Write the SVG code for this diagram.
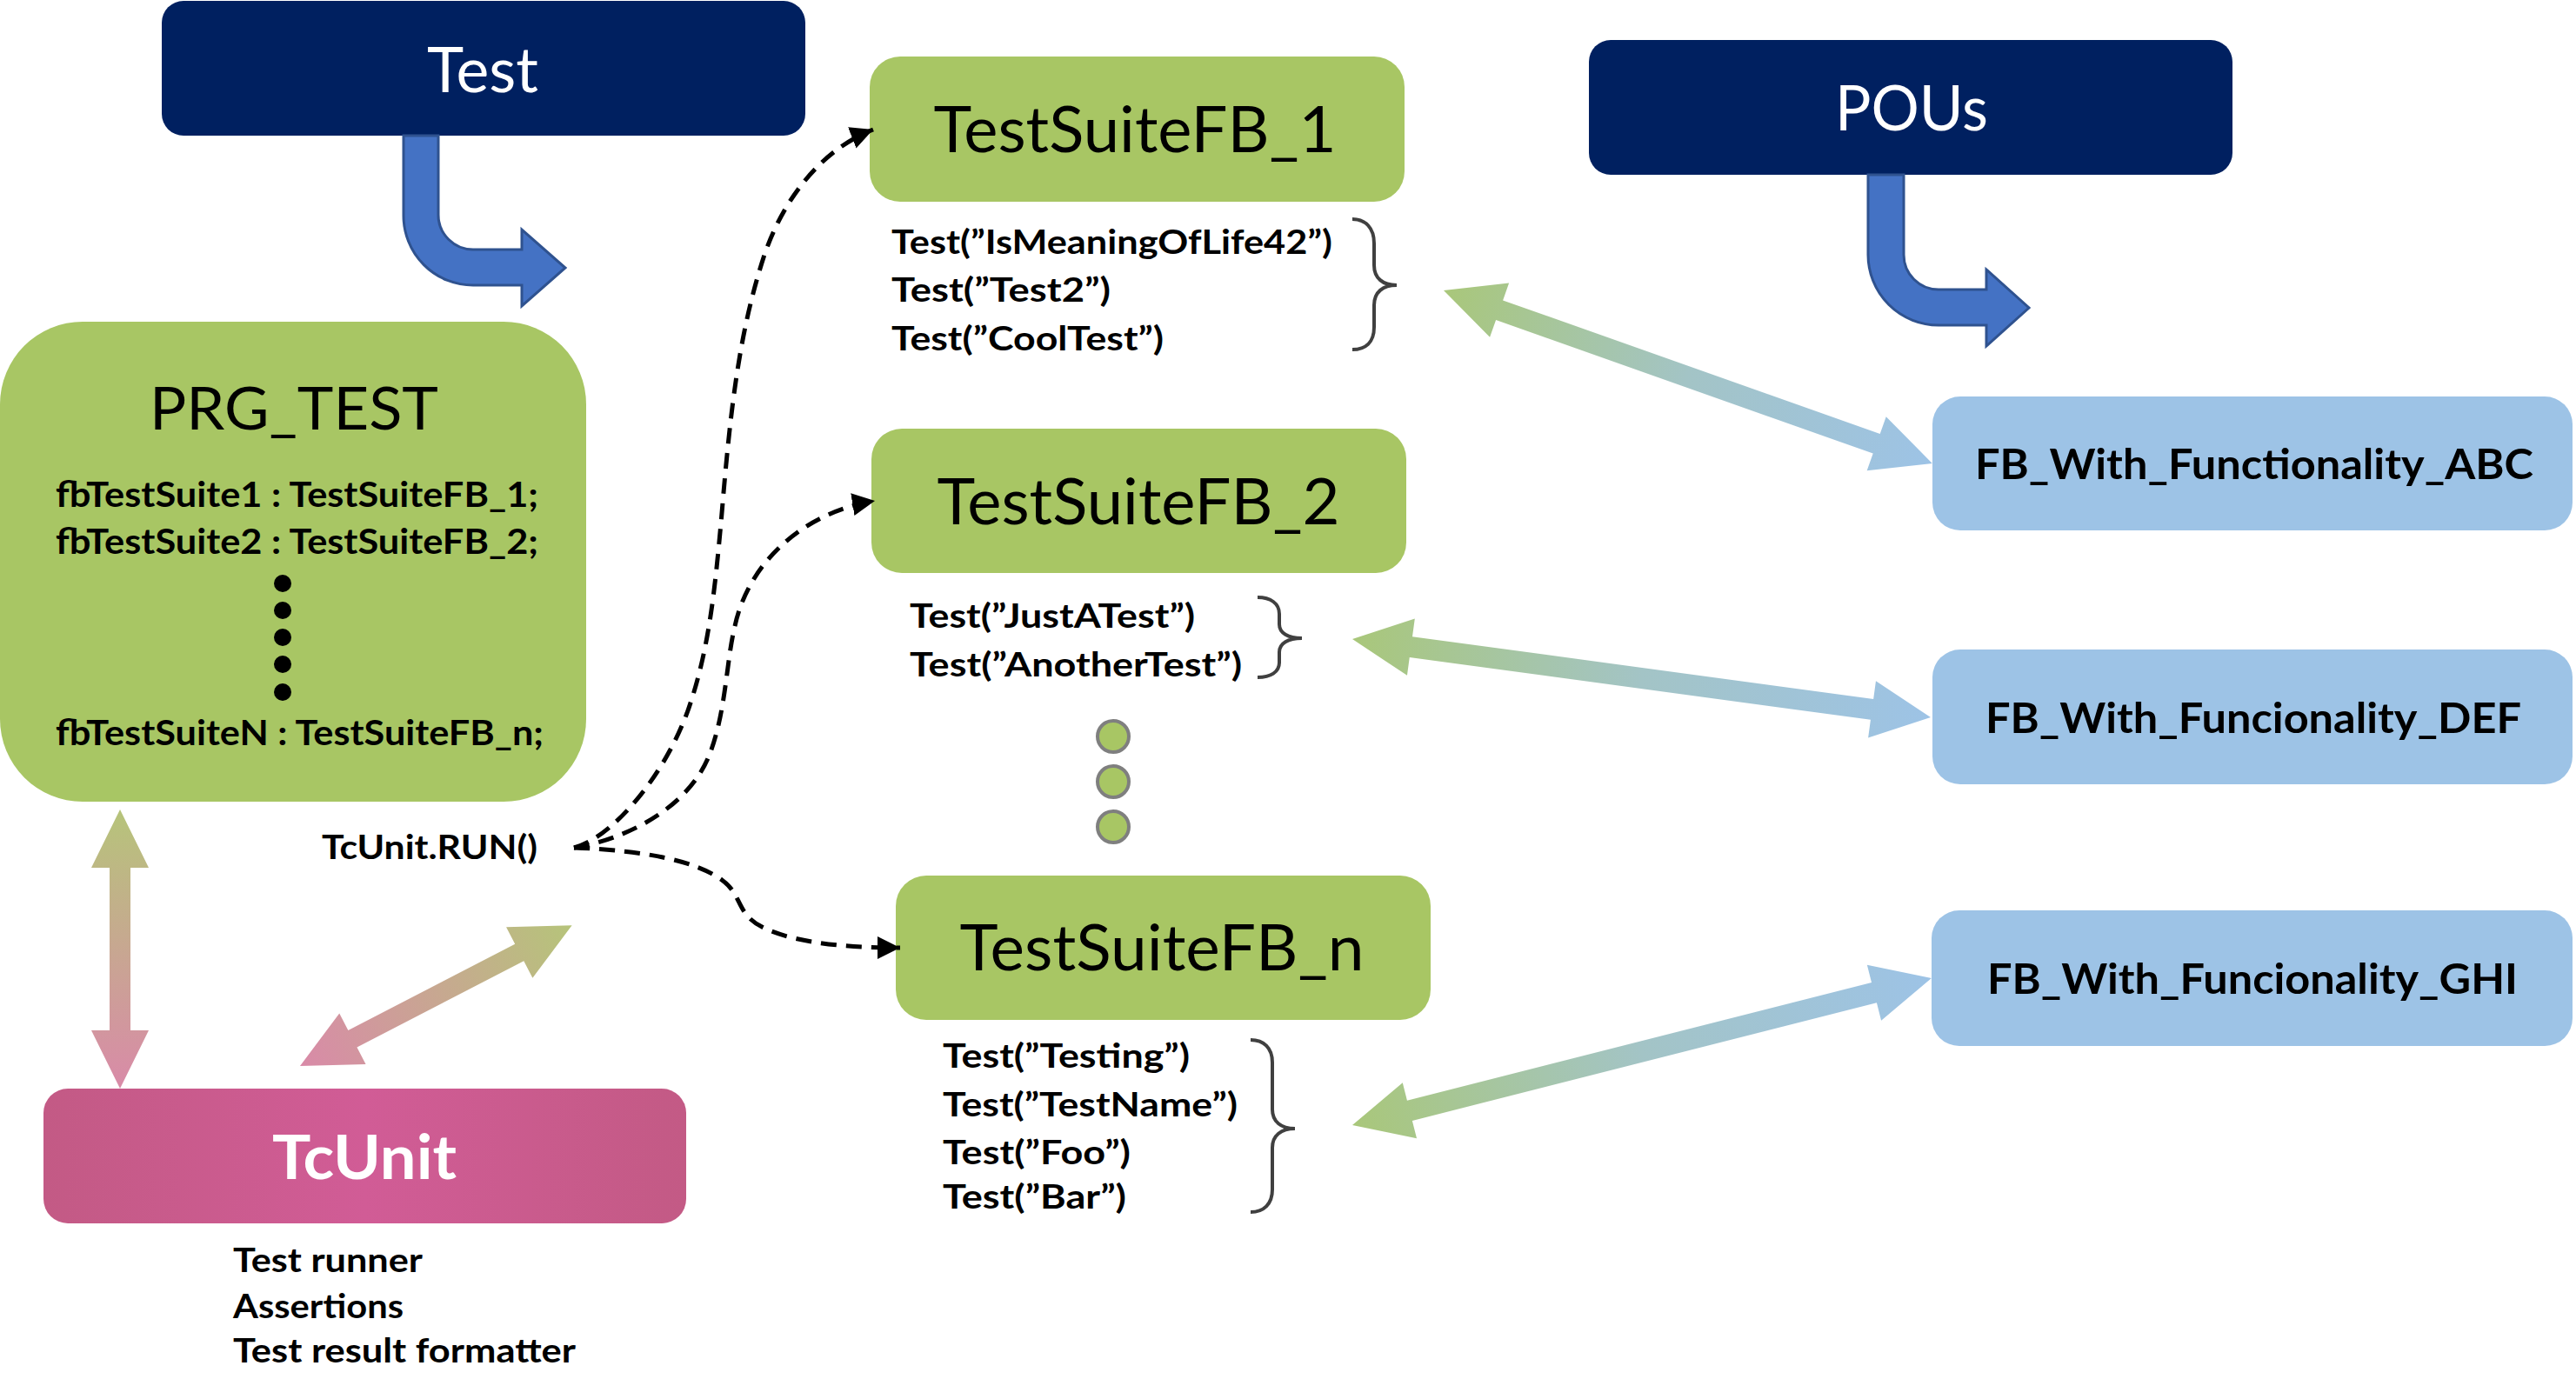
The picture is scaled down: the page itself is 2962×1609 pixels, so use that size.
<svg xmlns="http://www.w3.org/2000/svg" width="2962" height="1609" viewBox="0 0 2962 1609">
<defs>
<style>
text{font-family:Lato,"Open Sans","Liberation Sans",sans-serif;fill:#000}
.hdr{fill:#002060}
.hdrt{fill:#fff;font-size:71px;text-anchor:middle}
.suite{fill:#A8C664}
.suitet{font-size:74px;text-anchor:middle}
.fb{fill:#9DC3E6}
.fbt{font-size:47px;font-weight:bold;text-anchor:middle}
.code{font-size:40px;font-weight:bold}
.tl{font-size:39px;font-weight:bold}
.brace{fill:none;stroke:#404040;stroke-width:4}
.bend{fill:#4472C4;stroke:#2F528F;stroke-width:3}
.dash{fill:none;stroke:#000;stroke-width:5;stroke-dasharray:18 11;marker-end:url(#ah)}
.gdot{fill:#A8C664;stroke:#7F7F7F;stroke-width:4}
</style>
<marker id="ah" markerWidth="28" markerHeight="26" refX="26" refY="13" orient="auto" markerUnits="userSpaceOnUse"><path d="M0,0 L26,13 L0,26 Z" fill="#000"/></marker>
<linearGradient id="gb" x1="0" y1="0" x2="1" y2="0"><stop offset="0" stop-color="#A9C77A"/><stop offset="0.5" stop-color="#A3C4C6"/><stop offset="1" stop-color="#9DC3E6"/></linearGradient>
<linearGradient id="gpV" x1="0" y1="0" x2="0" y2="1"><stop offset="0" stop-color="#B6C47A"/><stop offset="1" stop-color="#D98AA8"/></linearGradient>
<linearGradient id="gpD" x1="0" y1="0" x2="1" y2="0"><stop offset="0" stop-color="#D98AA8"/><stop offset="1" stop-color="#B6C47A"/></linearGradient>
<linearGradient id="pink" x1="0" y1="0" x2="1" y2="0"><stop offset="0" stop-color="#C35A85"/><stop offset="0.5" stop-color="#D15C96"/><stop offset="1" stop-color="#C35A85"/></linearGradient>
</defs>

<g id="test-header">
<rect class="hdr" x="186" y="1" width="740" height="155" rx="25"/>
<text class="hdrt" x="555" y="106" textLength="128" lengthAdjust="spacingAndGlyphs">Test</text>
</g>
<g id="pous-header">
<rect class="hdr" x="1827" y="46" width="740" height="155" rx="25"/>
<text class="hdrt" x="2198" y="150" textLength="176" lengthAdjust="spacingAndGlyphs">POUs</text>
</g>

<g id="prg-test">
<rect class="suite" x="0" y="370" width="674" height="552" rx="95"/>
<text x="338" y="494" font-size="68" text-anchor="middle" textLength="332" lengthAdjust="spacingAndGlyphs">PRG_TEST</text>
<text class="code" x="64" y="583" textLength="555" lengthAdjust="spacingAndGlyphs">fbTestSuite1 : TestSuiteFB_1;</text>
<text class="code" x="64" y="637" textLength="555" lengthAdjust="spacingAndGlyphs">fbTestSuite2 : TestSuiteFB_2;</text>
<circle cx="325" cy="671" r="10"/>
<circle cx="325" cy="702" r="10"/>
<circle cx="325" cy="733" r="10"/>
<circle cx="325" cy="764" r="10"/>
<circle cx="325" cy="796" r="10"/>
<text class="code" x="64" y="857" textLength="561" lengthAdjust="spacingAndGlyphs">fbTestSuiteN : TestSuiteFB_n;</text>
</g>

<g id="tcunit">
<rect x="50" y="1252" width="739" height="155" rx="28" fill="url(#pink)"/>
<text x="419" y="1356" font-size="71" font-weight="bold" text-anchor="middle" textLength="212" lengthAdjust="spacingAndGlyphs" style="fill:#fff">TcUnit</text>
<text class="tl" x="268" y="1463" textLength="218" lengthAdjust="spacingAndGlyphs">Test runner</text>
<text class="tl" x="268" y="1516" textLength="196" lengthAdjust="spacingAndGlyphs">Assertions</text>
<text class="tl" x="268" y="1567" textLength="394" lengthAdjust="spacingAndGlyphs">Test result formatter</text>
</g>

<g id="tcunit-run">
<text class="tl" x="370" y="988" textLength="248" lengthAdjust="spacingAndGlyphs">TcUnit.RUN()</text>
</g>

<g id="suite-1">
<rect class="suite" x="1000" y="65" width="615" height="167" rx="35"/>
<text class="suitet" x="1305" y="175" textLength="463" lengthAdjust="spacingAndGlyphs">TestSuiteFB_1</text>
<text class="tl" x="1025" y="292" textLength="507" lengthAdjust="spacingAndGlyphs">Test(”IsMeaningOfLife42”)</text>
<text class="tl" x="1025" y="347" textLength="252" lengthAdjust="spacingAndGlyphs">Test(”Test2”)</text>
<text class="tl" x="1025" y="403" textLength="313" lengthAdjust="spacingAndGlyphs">Test(”CoolTest”)</text>
<path class="brace" d="M1555 252 C1570 252 1580 262 1580 280 L1580 305 C1580 320 1590 328 1606 328 C1590 328 1580 336 1580 351 L1580 376 C1580 394 1570 402 1555 402"/>
</g>

<g id="suite-2">
<rect class="suite" x="1002" y="493" width="615" height="166" rx="35"/>
<text class="suitet" x="1309" y="603" textLength="463" lengthAdjust="spacingAndGlyphs">TestSuiteFB_2</text>
<text class="tl" x="1046" y="722" textLength="328" lengthAdjust="spacingAndGlyphs">Test(”JustATest”)</text>
<text class="tl" x="1046" y="778" textLength="382" lengthAdjust="spacingAndGlyphs">Test(”AnotherTest”)</text>
<path class="brace" d="M1446 687 C1461 687 1471 694 1471 706 L1471 718 C1471 728 1481 734 1497 734 C1481 734 1471 740 1471 750 L1471 762 C1471 773 1461 779 1446 779"/>
</g>

<g id="more-suites">
<circle class="gdot" cx="1280" cy="847" r="18"/>
<circle class="gdot" cx="1280" cy="899" r="18"/>
<circle class="gdot" cx="1280" cy="951" r="18"/>
</g>

<g id="suite-n">
<rect class="suite" x="1030" y="1007" width="615" height="166" rx="35"/>
<text class="suitet" x="1336" y="1116" textLength="465" lengthAdjust="spacingAndGlyphs">TestSuiteFB_n</text>
<text class="tl" x="1084" y="1228" textLength="284" lengthAdjust="spacingAndGlyphs">Test(”Testing”)</text>
<text class="tl" x="1084" y="1284" textLength="339" lengthAdjust="spacingAndGlyphs">Test(”TestName”)</text>
<text class="tl" x="1084" y="1339" textLength="216" lengthAdjust="spacingAndGlyphs">Test(”Foo”)</text>
<text class="tl" x="1084" y="1390" textLength="211" lengthAdjust="spacingAndGlyphs">Test(”Bar”)</text>
<path class="brace" d="M1438 1196 C1453 1196 1463 1205 1463 1222 L1463 1276 C1463 1290 1473 1298 1489 1298 C1473 1298 1463 1306 1463 1320 L1463 1368 C1463 1385 1453 1394 1438 1394"/>
</g>

<g id="fb-abc">
<rect class="fb" x="2222" y="456" width="736" height="154" rx="32"/>
<text class="fbt" x="2592" y="551" textLength="642" lengthAdjust="spacingAndGlyphs">FB_With_Functionality_ABC</text>
</g>
<g id="fb-def">
<rect class="fb" x="2222" y="747" width="736" height="155" rx="32"/>
<text class="fbt" x="2591" y="843" textLength="616" lengthAdjust="spacingAndGlyphs">FB_With_Funcionality_DEF</text>
</g>
<g id="fb-ghi">
<rect class="fb" x="2221" y="1047" width="737" height="156" rx="32"/>
<text class="fbt" x="2590" y="1143" textLength="610" lengthAdjust="spacingAndGlyphs">FB_With_Funcionality_GHI</text>
</g>

<g id="connectors">
<path class="bend" d="M464 156 L504 156 L504 247 A40 40 0 0 0 544 287 L600 287 L600 264 L650 308 L600 352 L600 328 L544 328 A80 80 0 0 1 464 248 Z"/>
<path class="bend" d="M2148 201 L2189 201 L2189 293 A40 40 0 0 0 2229 333 L2284 333 L2284 310 L2333 354 L2284 398 L2284 374 L2229 374 A81 81 0 0 1 2148 293 Z"/>

<path class="dash" d="M660 975 C700 965 760 900 790 820 C815 750 822 680 830 590 C840 470 850 380 880 290 C905 220 950 170 1004 149"/>
<path class="dash" d="M660 975 C720 965 790 930 815 870 C835 820 835 760 845 720 C860 650 920 590 1006 576"/>
<path class="dash" d="M660 975 C740 978 800 990 830 1012 C855 1030 845 1052 880 1068 C920 1086 980 1090 1035 1090"/>

<polygon fill="url(#gpV)" points="138,931 171,998 150,998 150,1185 171,1185 138,1252 105,1185 126,1185 126,998 105,998"/>
<g transform="translate(345,1226) rotate(-27.36)">
<polygon fill="url(#gpD)" points="0,0 68,-33 68,-11 284,-11 284,-33 352,0 284,33 284,11 68,11 68,33"/>
</g>

<g transform="translate(1660,334) rotate(19.5)">
<polygon fill="url(#gb)" points="0,0 68,-33 68,-12 528,-12 528,-33 596,0 528,33 528,12 68,12 68,33"/>
</g>
<g transform="translate(1555,735) rotate(7.71)">
<polygon fill="url(#gb)" points="0,0 68,-33 68,-12 603,-12 603,-33 671,0 603,33 603,12 68,12 68,33"/>
</g>
<g transform="translate(1555,1294) rotate(-14.24)">
<polygon fill="url(#gb)" points="0,0 68,-33 68,-12 619,-12 619,-33 687,0 619,33 619,12 68,12 68,33"/>
</g>
</g>
</svg>
